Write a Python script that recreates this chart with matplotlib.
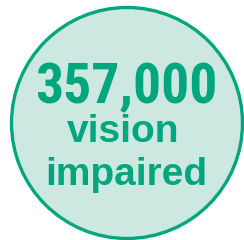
import matplotlib
matplotlib.use('Agg')
import matplotlib.pyplot as plt
from matplotlib.patches import Circle

# Values
headline = "357,000"
line_two = "vision"
line_three = "impaired"

green = '#00a67d'
fill = '#cce8e0'


def main():
    fig = plt.figure(figsize=(2.44, 2.40), dpi=100)
    ax = fig.add_axes([0, 0, 1, 1])
    ax.set_xlim(0, 244)
    ax.set_ylim(240, 0)
    ax.axis('off')

    # the circle badge
    ax.add_patch(Circle((127, 123), 115.5, facecolor=fill, edgecolor=green, linewidth=2.4))

    # narrow bold for the big number
    ax.text(126.5, 103, headline, ha='center', va='baseline', color=green,
            fontsize=40, fontweight='bold',
            family=['Roboto Condensed', 'PT Sans Narrow', 'Liberation Sans', 'DejaVu Sans'])
    ax.text(123, 142, line_two, ha='center', va='baseline', color=green,
            fontsize=28, fontweight='bold', family=['Liberation Sans', 'DejaVu Sans'])
    ax.text(126, 185, line_three, ha='center', va='baseline', color=green,
            fontsize=28, fontweight='bold', family=['Liberation Sans', 'DejaVu Sans'])

    fig.savefig('out.png', dpi=100)


if __name__ == "__main__":
    main()
